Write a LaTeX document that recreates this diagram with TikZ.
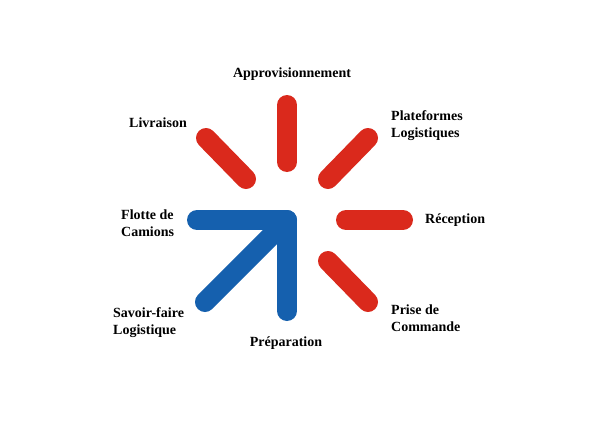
\documentclass[tikz,border=0pt]{standalone}
\usepackage{fontspec}
\setmainfont{Liberation Serif}
\definecolor{rayred}{RGB}{218,41,28}
\definecolor{rayblue}{RGB}{21,96,174}
\begin{document}
\begin{tikzpicture}[x=1pt,y=-1pt,
  ray/.style={line width=20pt,line cap=round,color=rayred},
  bluearrow/.style={line width=20pt,line cap=round,line join=round,color=rayblue},
  lbl/.style={font=\fontsize{14}{17}\selectfont\bfseries,inner sep=0pt,align=left}]
\useasboundingbox[fill=white] (0,0) rectangle (598,423);
\coordinate (c) at (287,220);
% red rays
\coordinate (t1) at (287,162); \coordinate (t2) at (287,105);
\coordinate (tr1) at (328,179); \coordinate (tr2) at (368,138);
\coordinate (r1) at (346,220); \coordinate (r2) at (403,220);
\coordinate (br1) at (328,261); \coordinate (br2) at (368,302);
\coordinate (tl1) at (246,179); \coordinate (tl2) at (206,138);
\draw[ray] (t1) -- (t2);
\draw[ray] (tr1) -- (tr2);
\draw[ray] (r1) -- (r2);
\draw[ray] (br1) -- (br2);
\draw[ray] (tl1) -- (tl2);
% blue arrow
\coordinate (h) at (197,220);
\coordinate (v) at (287,311);
\coordinate (d) at (205,302);
\draw[bluearrow] (h) -- (c) -- (v);
\draw[bluearrow] (d) -- (c);
% labels
\node[lbl] (appro) at (292,74.5) {Approvisionnement};
\node[lbl] (livr) at (158,122.5) {Livraison};
\node[lbl,anchor=west] (plat) at (391,125.5) {Plateformes\\Logistiques};
\node[lbl,anchor=west] (recep) at (425,220.5) {Réception};
\node[lbl,anchor=west] (flotte) at (121,223) {Flotte de\\Camions};
\node[lbl,anchor=west] (savoir) at (113,322.5) {Savoir-faire\\Logistique};
\node[lbl] (prep) at (286,343) {Préparation};
\node[lbl,anchor=west] (prise) at (391,318.5) {Prise de\\Commande};
\end{tikzpicture}
\end{document}
